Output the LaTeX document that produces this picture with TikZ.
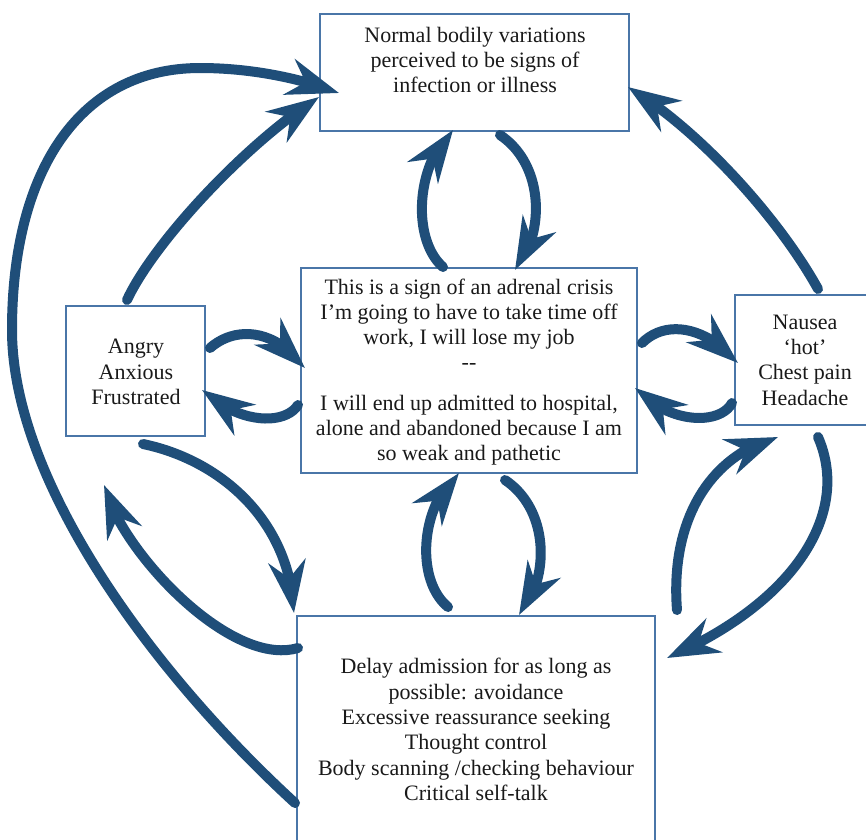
\documentclass[tikz,border=0pt]{standalone}
\usepackage{fontspec}
\setmainfont{Liberation Serif}
\usetikzlibrary{arrows.meta,bending}
\definecolor{arr}{RGB}{31,78,121}
\definecolor{bx}{RGB}{74,118,168}
\begin{document}
\begin{tikzpicture}[x=1pt,y=-1pt,
  boxst/.style={draw=bx,line width=1.5pt,rectangle,inner sep=0pt},
  txt/.style={font=\fontsize{22}{25.3}\selectfont,align=center,inner sep=0pt,text=black!90},
  arrst/.style={draw=arr,line width=10pt,line cap=round,-{Stealth[length=52pt,width=37pt,inset=17pt]}}]
\useasboundingbox (0,0) rectangle (866,839);
\clip (0,0) rectangle (866,839);
% boxes
\node[boxst,minimum width=309pt,minimum height=117pt] (top) at (474.5,72.5) {};
\node[boxst,minimum width=336pt,minimum height=205pt] (mid) at (469,370.5) {};
\node[boxst,minimum width=139pt,minimum height=130pt] (lft) at (135.5,371) {};
\node[boxst,minimum width=141pt,minimum height=130pt] (rgt) at (805.5,360) {};
\node[boxst,minimum width=358pt,minimum height=240pt] (bot) at (476,736) {};
% texts
\node[txt] (toptxt) at (475,60) {Normal bodily variations\\perceived to be signs of\\infection or illness};
\node[txt] (midtxt) at (469,372) {This is a sign of an adrenal crisis\\I’m going to have to take time off\\work, I will lose my job\\-{}-\\[15pt]I will end up admitted to hospital,\\alone and abandoned because I am\\so weak and pathetic};
\node[txt] (lfttxt) at (136,372) {Angry\\Anxious\\Frustrated};
\node[txt] (rgttxt) at (805,360) {Nausea\\‘hot’\\Chest pain\\Headache};
\node[txt] (bottxt) at (476,729.5) {Delay admission for as long as\\possible: avoidance\\Excessive reassurance seeking\\Thought control\\Body scanning /checking behaviour\\Critical self-talk};
% connector end points
\coordinate (a1s) at (500,135);  \coordinate (a1e) at (515,270);
\coordinate (a2s) at (443,267);  \coordinate (a2e) at (453,130);
\coordinate (a3s) at (210,348);  \coordinate (a3e) at (305,368);
\coordinate (a4s) at (298,405);  \coordinate (a4e) at (202,390);
\coordinate (a5s) at (642,343);  \coordinate (a5e) at (738,363);
\coordinate (a6s) at (732,403);  \coordinate (a6e) at (635,388);
\coordinate (a7s) at (448,607);  \coordinate (a7e) at (459,473);
\coordinate (a8s) at (505,480);  \coordinate (a8e) at (519,615);
\coordinate (a9s) at (677,610);  \coordinate (a9e) at (778,437);
\coordinate (a10s) at (818,437); \coordinate (a10e) at (667,658);
\coordinate (a11s) at (143,444); \coordinate (a11e) at (294,613);
\coordinate (a12s) at (298,648); \coordinate (a12e) at (104,485);
\coordinate (a13s) at (127,300); \coordinate (a13e) at (319,97);
\coordinate (a14s) at (818,289); \coordinate (a14e) at (628,87);
\coordinate (a15s) at (295,803); \coordinate (a15e) at (339,93);
% connectors
\draw[arrst] (a1s) .. controls (545,165) and (545,235) .. (a1e);
\draw[arrst] (a2s) .. controls (412,240) and (415,165) .. (a2e);
\draw[arrst] (a3s) .. controls (235,326) and (275,328) .. (a3e);
\draw[arrst] (a4s) .. controls (285,425) and (240,425) .. (a4e);
\draw[arrst] (a5s) .. controls (665,320) and (705,325) .. (a5e);
\draw[arrst] (a6s) .. controls (720,425) and (670,425) .. (a6e);
\draw[arrst] (a7s) .. controls (415,580) and (420,505) .. (a7e);
\draw[arrst] (a8s) .. controls (550,510) and (550,580) .. (a8e);
\draw[arrst] (a9s) .. controls (670,520) and (710,455) .. (a9e);
\draw[arrst] (a10s) .. controls (850,510) and (800,600) .. (a10e);
\draw[arrst] (a11s) .. controls (220,460) and (290,520) .. (a11e);
\draw[arrst] (a12s) .. controls (230,668) and (120,550) .. (a12e);
\draw[arrst] (a13s) .. controls (155,240) and (250,140) .. (a13e);
\draw[arrst] (a14s) .. controls (780,220) and (700,130) .. (a14e);
\draw[arrst] (a15s) .. controls (150,670) and (12,480) .. (12,330)
  .. controls (12,170) and (80,68) .. (200,68)
  .. controls (250,68) and (300,78) .. (a15e);
\end{tikzpicture}
\end{document}
